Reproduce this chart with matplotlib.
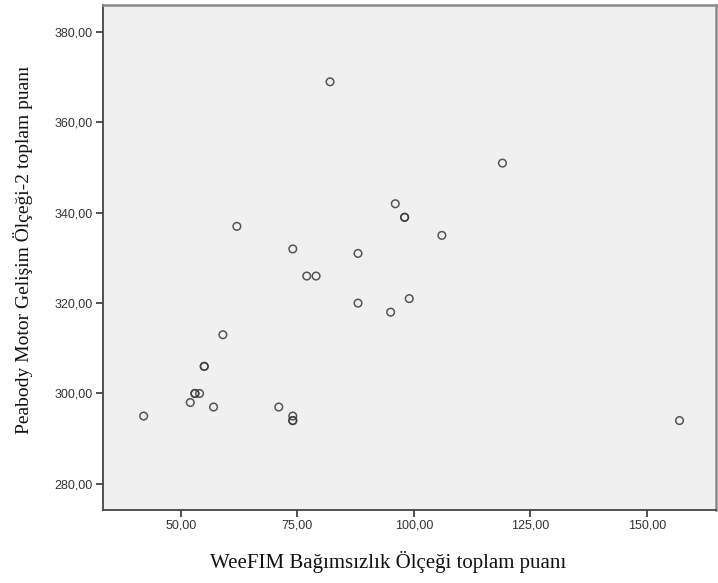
import matplotlib
matplotlib.use("Agg")
import matplotlib.pyplot as plt
from matplotlib.ticker import FuncFormatter

# WeeFIM (x) vs Peabody PDMS-2 (y) total scores
weefim = [82, 119, 96, 98, 98, 106, 74, 88, 77, 79, 88, 99, 95,
          55, 55, 53, 53, 54, 52, 57, 42, 71, 74, 74, 74, 62, 59, 157]
peabody = [369, 351, 342, 339, 339, 335, 332, 331, 326, 326, 320, 321, 318,
           306, 306, 300, 300, 300, 298, 297, 295, 297, 295, 294, 294, 337, 313, 294]

x_ticks = [50, 75, 100, 125, 150]
y_ticks = [280, 300, 320, 340, 360, 380]

x_label = "WeeFIM Bağımsızlık Ölçeği toplam puanı"
y_label = "Peabody Motor Gelişim Ölçeği-2 toplam puanı"


def comma_fmt(v, pos):
    return f"{v:.2f}".replace(".", ",")


fig = plt.figure(figsize=(7.18, 5.83), dpi=100)
ax = fig.add_axes([0.143, 0.1252, 0.854, 0.8662])
ax.set_facecolor("#f0f0f0")

ax.scatter(weefim, peabody, s=30, facecolors="none", edgecolors="#3a3a3a",
           linewidths=1.1, alpha=0.85, zorder=3)

ax.set_xlim(33.2, 164.8)
ax.set_ylim(274.2, 386.0)
ax.set_xticks(x_ticks)
ax.set_yticks(y_ticks)
ax.xaxis.set_major_formatter(FuncFormatter(comma_fmt))
ax.yaxis.set_major_formatter(FuncFormatter(comma_fmt))

ax.tick_params(axis="both", direction="out", length=5, width=1.2,
               color="#333333", labelcolor="#333333", labelsize=9, pad=2)
for lab in ax.get_xticklabels() + ax.get_yticklabels():
    lab.set_fontfamily("Liberation Sans")

for side in ("left", "bottom"):
    ax.spines[side].set_color("#444444")
    ax.spines[side].set_linewidth(1.3)
for side in ("top", "right"):
    ax.spines[side].set_color("#8a8a8a")
    ax.spines[side].set_linewidth(1.8)

fig.text(0.54, 0.036, x_label, ha="center", va="center",
         family="Liberation Serif", fontsize=15, color="#111111")
fig.text(0.032, 0.571, y_label, ha="center", va="center", rotation=90,
         family="Liberation Serif", fontsize=14, color="#111111")

fig.savefig("out.png", dpi=100)
